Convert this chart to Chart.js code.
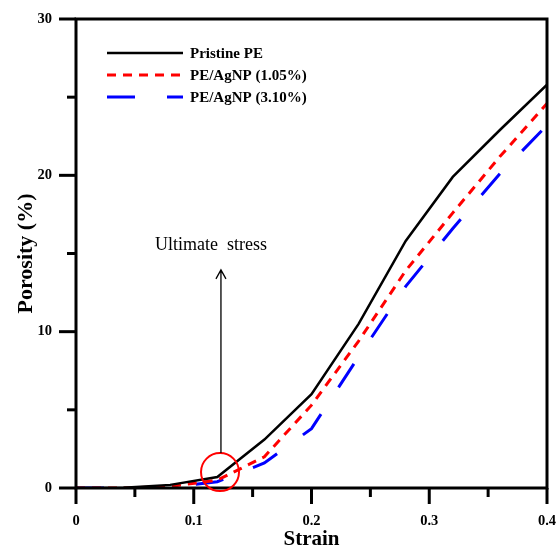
<!DOCTYPE html>
<html>
<head>
<meta charset="utf-8">
<script src="https://cdn.jsdelivr.net/npm/chart.js@4"></script>
<style>
  html, body { margin: 0; padding: 0; background: #fff; }
  #wrap { width: 556px; height: 549px; }
</style>
</head>
<body>
<div id="wrap"><canvas id="mycanvas" width="556" height="549"></canvas></div>
<script>
// values
var strain = [0, 0.04, 0.08, 0.12, 0.16, 0.20, 0.24, 0.28, 0.32, 0.36, 0.40];
var pristine = [0, 0.02, 0.2, 0.7, 3.1, 6.0, 10.5, 15.8, 19.9, 22.9, 25.8];
var agnp105 = [0, 0, 0.1, 0.5, 2.0, 5.3, 9.4, 13.9, 17.6, 21.2, 24.6];
var agnp310 = [0, 0, 0.05, 0.4, 1.6, 3.8, 8.4, 12.9, 16.6, 20.1, 23.2];
var seriesNames = ['Pristine PE', 'PE/AgNP (1.05%)', 'PE/AgNP (3.10%)'];
var xTicks = [0, 0.1, 0.2, 0.3, 0.4];
var yTicks = [0, 10, 20, 30];

var serif = '"Liberation Serif", "Times New Roman", serif';

function pts(ys) {
	var out = [];
	for (var i in strain) out.push({x: strain[i], y: ys[i]});
	return out;
}

function noPad(s) {
	s.paddingLeft = 0; s.paddingRight = 0; s.paddingTop = 0; s.paddingBottom = 0;
}

var decor = {
	id: 'decor',
	afterDraw: function(chart) {
		var ctx = chart.ctx, a = chart.chartArea;
		var xs = chart.scales.x, ys = chart.scales.y;
		ctx.save();
		// frame
		ctx.strokeStyle = '#000';
		ctx.lineWidth = 3;
		ctx.strokeRect(a.left, a.top, a.right - a.left, a.bottom - a.top);
		// ticks (major + minor)
		for (var v = 0; v <= 0.4001; v += 0.05) {
			var px = xs.getPixelForValue(v);
			var major = Math.abs(v * 10 - Math.round(v * 10)) < 1e-6;
			ctx.beginPath();
			ctx.moveTo(px, a.bottom);
			ctx.lineTo(px, a.bottom + (major ? 16 : 9));
			ctx.stroke();
		}
		for (var w = 0; w <= 30; w += 5) {
			var py = ys.getPixelForValue(w);
			ctx.beginPath();
			ctx.moveTo(a.left, py);
			ctx.lineTo(a.left - (w % 10 === 0 ? 17 : 9), py);
			ctx.stroke();
		}
		// legend
		var ds = chart.data.datasets;
		for (var i = 0; i < ds.length; i++) {
			var ly = 53 + i * 22;
			ctx.beginPath();
			ctx.strokeStyle = ds[i].borderColor;
			ctx.lineWidth = ds[i].borderWidth;
			ctx.setLineDash(ds[i].borderDash || []);
			ctx.moveTo(107, ly);
			ctx.lineTo(183, ly);
			ctx.stroke();
			ctx.setLineDash([]);
			ctx.fillStyle = '#000';
			ctx.font = 'bold 15px ' + serif;
			ctx.textBaseline = 'middle';
			ctx.textAlign = 'left';
			ctx.fillText(seriesNames[i], 190, ly + 1);
		}
		// ultimate stress annotation
		var cx = xs.getPixelForValue(0.1223), cy = ys.getPixelForValue(1.02);
		ctx.beginPath();
		ctx.strokeStyle = '#f00';
		ctx.lineWidth = 2;
		ctx.arc(cx, cy, 19, 0, Math.PI * 2);
		ctx.stroke();
		var ax = xs.getPixelForValue(0.1231), top = ys.getPixelForValue(13.95);
		ctx.beginPath();
		ctx.strokeStyle = '#000';
		ctx.lineWidth = 1.3;
		ctx.moveTo(ax, cy - 19);
		ctx.lineTo(ax, top);
		ctx.moveTo(ax - 5, top + 9);
		ctx.lineTo(ax, top);
		ctx.lineTo(ax + 5, top + 9);
		ctx.stroke();
		ctx.fillStyle = '#000';
		ctx.font = '18px ' + serif;
		ctx.textAlign = 'center';
		ctx.textBaseline = 'middle';
		ctx.fillText('Ultimate  stress', xs.getPixelForValue(0.1146), ys.getPixelForValue(15.5));
		ctx.restore();
	}
};

var ctx = document.getElementById('mycanvas');
var chart = new Chart(ctx, {
	type: 'line',
	data: {
		datasets: [
			{label: seriesNames[0], data: pts(pristine), borderColor: '#000', borderWidth: 2.5, pointRadius: 0, fill: false, tension: 0},
			{label: seriesNames[1], data: pts(agnp105), borderColor: '#ff0000', borderWidth: 3, borderDash: [9, 7], pointRadius: 0, fill: false, tension: 0},
			{label: seriesNames[2], data: pts(agnp310), borderColor: '#0000ff', borderWidth: 3, borderDash: [28, 32], pointRadius: 0, fill: false, tension: 0}
		]
	},
	options: {
		responsive: false,
		animation: false,
		layout: {padding: {left: 0, right: 9, top: 19, bottom: 0}},
		plugins: {legend: {display: false}, tooltip: {enabled: false}},
		scales: {
			x: {
				type: 'linear', min: 0, max: 0.4,
				grid: {display: false, drawTicks: false},
				border: {display: false},
				afterBuildTicks: function(s) { s.ticks = xTicks.map(function(v) { return {value: v}; }); },
				afterFit: function(s) { s.height = 61; noPad(s); },
				ticks: {
					padding: 25, color: '#000', maxRotation: 0,
					font: {family: serif, weight: 'bold', size: 14.5},
					callback: function(v) { return v === 0 ? '0' : String(Math.round(v * 10) / 10); }
				},
				title: {display: true, text: 'Strain', color: '#000', padding: {top: 0, bottom: 0}, font: {family: serif, weight: 'bold', size: 21, lineHeight: 0.85}}
			},
			y: {
				min: 0, max: 30,
				grid: {display: false, drawTicks: false},
				border: {display: false},
				afterBuildTicks: function(s) { s.ticks = yTicks.map(function(v) { return {value: v}; }); },
				afterFit: function(s) { s.width = 76; noPad(s); },
				ticks: {padding: 24, color: '#000', font: {family: serif, weight: 'bold', size: 14.5}},
				title: {display: true, text: 'Porosity (%)', color: '#000', padding: {top: 13, bottom: 0}, font: {family: serif, weight: 'bold', size: 22}}
			}
		}
	},
	plugins: [decor]
});
</script>
</body>
</html>
